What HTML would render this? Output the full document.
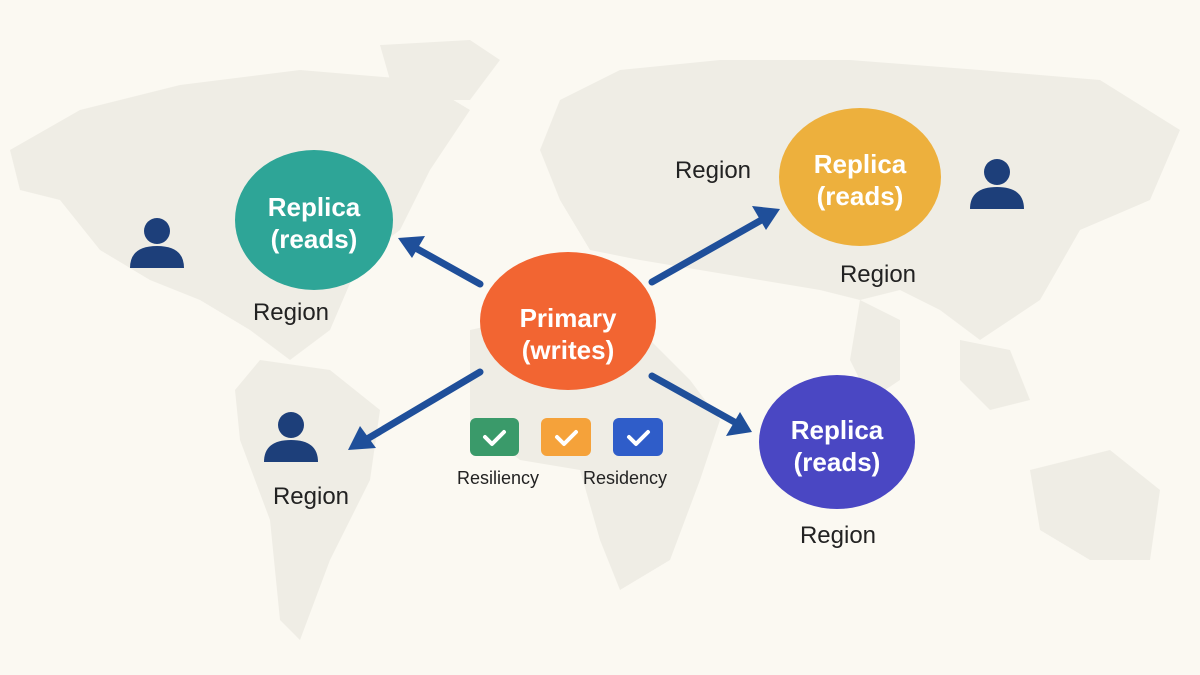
<!DOCTYPE html>
<html><head><style>
html,body{margin:0;padding:0;width:1200px;height:675px;overflow:hidden;background:#fbf9f2}
svg{display:block}
text{font-family:"Liberation Sans",sans-serif}
</style></head><body>
<svg width="1200" height="675" viewBox="0 0 1200 675">
<rect width="1200" height="675" fill="#fbf9f2"/>
<g fill="#efede5">
<path d="M10 150 L80 110 L180 85 L300 70 L420 80 L470 110 L430 170 L400 230 L360 260 L330 330 L290 360 L250 330 L200 300 L150 280 L100 250 L60 200 L20 190Z"/>
<path d="M380 45 L470 40 L500 60 L470 100 L420 100 L390 80Z"/>
<path d="M260 360 L330 370 L380 410 L370 480 L330 560 L300 640 L280 620 L270 520 L240 440 L235 390Z"/>
<path d="M560 100 L620 70 L720 60 L850 60 L980 70 L1100 80 L1180 130 L1150 200 L1080 230 L1040 300 L980 340 L940 310 L900 290 L860 300 L820 290 L760 280 L700 270 L640 260 L590 250 L560 200 L540 150Z"/>
<path d="M470 330 L560 310 L640 330 L690 380 L720 420 L700 480 L670 560 L620 590 L600 540 L580 470 L520 460 L470 420Z"/>
<path d="M860 300 L900 320 L900 380 L870 400 L850 360Z"/>
<path d="M960 340 L1010 350 L1030 400 L990 410 L960 380Z"/>
<path d="M1030 470 L1110 450 L1160 490 L1150 560 L1090 560 L1040 530Z"/>
</g>
<g stroke="#1f4f9a" stroke-width="7" fill="none" stroke-linecap="round">
<line x1="480" y1="284" x2="412" y2="246"/>
<line x1="652" y1="282" x2="765" y2="218"/>
<line x1="480" y1="372" x2="362" y2="442"/>
<line x1="652" y1="376" x2="738" y2="424"/>
</g>
<g fill="#1f4f9a">
<polygon points="398,238 425,236 412,258"/>
<polygon points="780,209 752,206 766,230"/>
<polygon points="348,450 360,426 376,448"/>
<polygon points="752,432 726,436 740,412"/>
</g>
<ellipse cx="314" cy="220" rx="79" ry="70" fill="#2ea597"/>
<ellipse cx="860" cy="177" rx="81" ry="69" fill="#edb03d"/>
<ellipse cx="568" cy="321" rx="88" ry="69" fill="#f26532"/>
<ellipse cx="837" cy="442" rx="78" ry="67" fill="#4a47c3"/>
<g fill="#fff" font-size="26" text-anchor="middle" font-weight="bold">
<text x="314" y="216">Replica</text><text x="314" y="248">(reads)</text>
<text x="860" y="173">Replica</text><text x="860" y="205">(reads)</text>
<text x="568" y="327">Primary</text><text x="568" y="359">(writes)</text>
<text x="837" y="439">Replica</text><text x="837" y="471">(reads)</text>
</g>
<g fill="#1d3f7a">
<circle cx="157" cy="231" r="13"/><path d="M130 268 Q130 246 157 246 Q184 246 184 268Z"/>
<circle cx="997" cy="172" r="13"/><path d="M970 209 Q970 187 997 187 Q1024 187 1024 209Z"/>
<circle cx="291" cy="425" r="13"/><path d="M264 462 Q264 440 291 440 Q318 440 318 462Z"/>
</g>
<g fill="#222" font-size="24" text-anchor="middle">
<text x="291" y="320">Region</text>
<text x="713" y="178">Region</text>
<text x="878" y="282">Region</text>
<text x="311" y="504">Region</text>
<text x="838" y="543">Region</text>
</g>
<rect x="470" y="418" width="49" height="38" rx="6" fill="#3a9a6a"/>
<rect x="541" y="418" width="50" height="38" rx="6" fill="#f5a23a"/>
<rect x="613" y="418" width="50" height="38" rx="6" fill="#2f5dc9"/>
<g stroke="#fff" stroke-width="4" fill="none" stroke-linecap="round" stroke-linejoin="round">
<polyline points="485,437 492,444 504,432"/>
<polyline points="557,437 564,444 576,432"/>
<polyline points="629,437 636,444 648,432"/>
</g>
<g fill="#222" font-size="18" text-anchor="middle">
<text x="498" y="484">Resiliency</text>
<text x="625" y="484">Residency</text>
</g>
</svg>
</body></html>
